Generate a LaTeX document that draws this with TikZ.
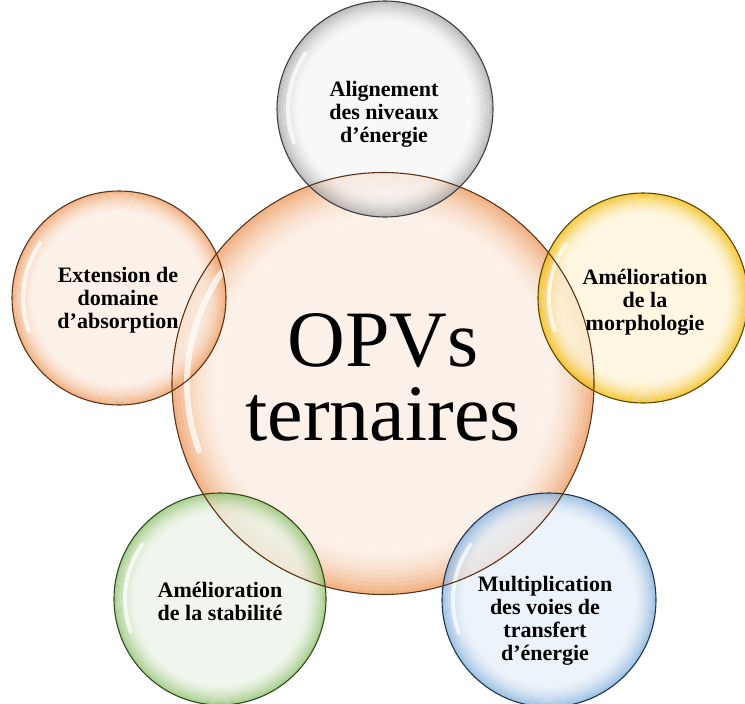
\documentclass[tikz,border=0pt]{standalone}
\usepackage{fontspec}
\setmainfont{Liberation Serif}
\usetikzlibrary{calc}
\definecolor{orIn}{HTML}{FCEEE4}\definecolor{orRim}{HTML}{EE9A5E}\definecolor{orB}{HTML}{5A3418}
\definecolor{grIn}{HTML}{F7F7F7}\definecolor{grRim}{HTML}{A5A5A5}\definecolor{grB}{HTML}{404040}
\definecolor{yeIn}{HTML}{FFF5DA}\definecolor{yeRim}{HTML}{F2B800}\definecolor{yeB}{HTML}{5C4600}
\definecolor{gnIn}{HTML}{EDF4E9}\definecolor{gnRim}{HTML}{8CBF6A}\definecolor{gnB}{HTML}{2F4A1E}
\definecolor{blIn}{HTML}{E8F0F9}\definecolor{blRim}{HTML}{7FAEDB}\definecolor{blB}{HTML}{1F3550}
% #1 node name, #2 radius (pt, number), #3 inner colour, #4 rim colour
\newcommand\bubblefill[4]{%
  \fill[#3, fill opacity=0.8] (#1.center) circle[radius={0.78*#2 pt}];
  \foreach \k in {0,...,10} {
    \pgfmathsetmacro\ra{#2*(0.78+0.02*\k)}
    \pgfmathsetmacro\rb{#2*(0.78+0.02*(\k+1))}
    \pgfmathtruncatemacro\pc{100*((\k+0.5)/11)^1.7}
    \fill[#4!\pc!#3, fill opacity=0.8, even odd rule]
      (#1.center) circle[radius=\rb pt] (#1.center) circle[radius=\ra pt];
  }%
}
\begin{document}
\begin{tikzpicture}[x=1pt,y=-1pt,
  bub/.style={circle, inner sep=0pt, outer sep=0pt, minimum size=#1},
  rimline/.style={line width=1.1pt},
  gloss/.style={white, line width=4pt, line cap=round, opacity=0.7},
  lab/.style={font=\fontsize{22}{23}\selectfont\bfseries, align=center, text=black, inner sep=0pt},
  big/.style={font=\fontsize{80}{74}\selectfont, align=center, text=black, inner sep=0pt}]
\useasboundingbox (0,0) rectangle (745,704);
\fill[white] (0,0) rectangle (745,704);
% bubble shapes
\node[bub=422pt] (opv) at (383,383.5) {};
\node[bub=216pt] (top) at (385,109) {};
\node[bub=210pt] (right) at (643,298) {};
\node[bub=214pt] (left) at (119,298) {};
\node[bub=212pt] (bl) at (220,599) {};
\node[bub=214pt] (br) at (549,600) {};
% fills
\bubblefill{opv}{211}{orIn}{orRim}
\bubblefill{top}{108}{grIn}{grRim}
\bubblefill{right}{105}{yeIn}{yeRim}
\bubblefill{left}{107}{orIn}{orRim}
\bubblefill{bl}{106}{gnIn}{gnRim}
\bubblefill{br}{107}{blIn}{blRim}
% gloss highlights
\draw[gloss, line width=6pt] ($(opv.center)+(145:196pt)$) arc[start angle=145, end angle=200, radius=196pt];
\draw[gloss] ($(top.center)+(145:97pt)$) arc[start angle=145, end angle=200, radius=97pt];
\draw[gloss] ($(right.center)+(145:94pt)$) arc[start angle=145, end angle=200, radius=94pt];
\draw[gloss] ($(left.center)+(145:96pt)$) arc[start angle=145, end angle=200, radius=96pt];
\draw[gloss] ($(bl.center)+(145:95pt)$) arc[start angle=145, end angle=200, radius=95pt];
\draw[gloss] ($(br.center)+(145:96pt)$) arc[start angle=145, end angle=200, radius=96pt];
% outlines
\draw[rimline, draw=orB] (opv.center) circle[radius=211pt];
\draw[rimline, draw=grB] (top.center) circle[radius=108pt];
\draw[rimline, draw=yeB] (right.center) circle[radius=105pt];
\draw[rimline, draw=orB] (left.center) circle[radius=107pt];
\draw[rimline, draw=gnB] (bl.center) circle[radius=106pt];
\draw[rimline, draw=blB] (br.center) circle[radius=107pt];
% texts
\node[big] (t0) at (383,377) {OPVs\\ternaires};
\node[lab] (t1) at (384,114) {Alignement\\des niveaux\\d’énergie};
\node[lab] (t2) at (645,302) {Amélioration\\de la\\morphologie};
\node[lab] (t3) at (118,300) {Extension de\\domaine\\d’absorption};
\node[lab] (t4) at (220,601) {Amélioration\\de la stabilité};
\node[lab] (t5) at (545,621) {Multiplication\\des voies de\\transfert\\d’énergie};
\end{tikzpicture}
\end{document}
